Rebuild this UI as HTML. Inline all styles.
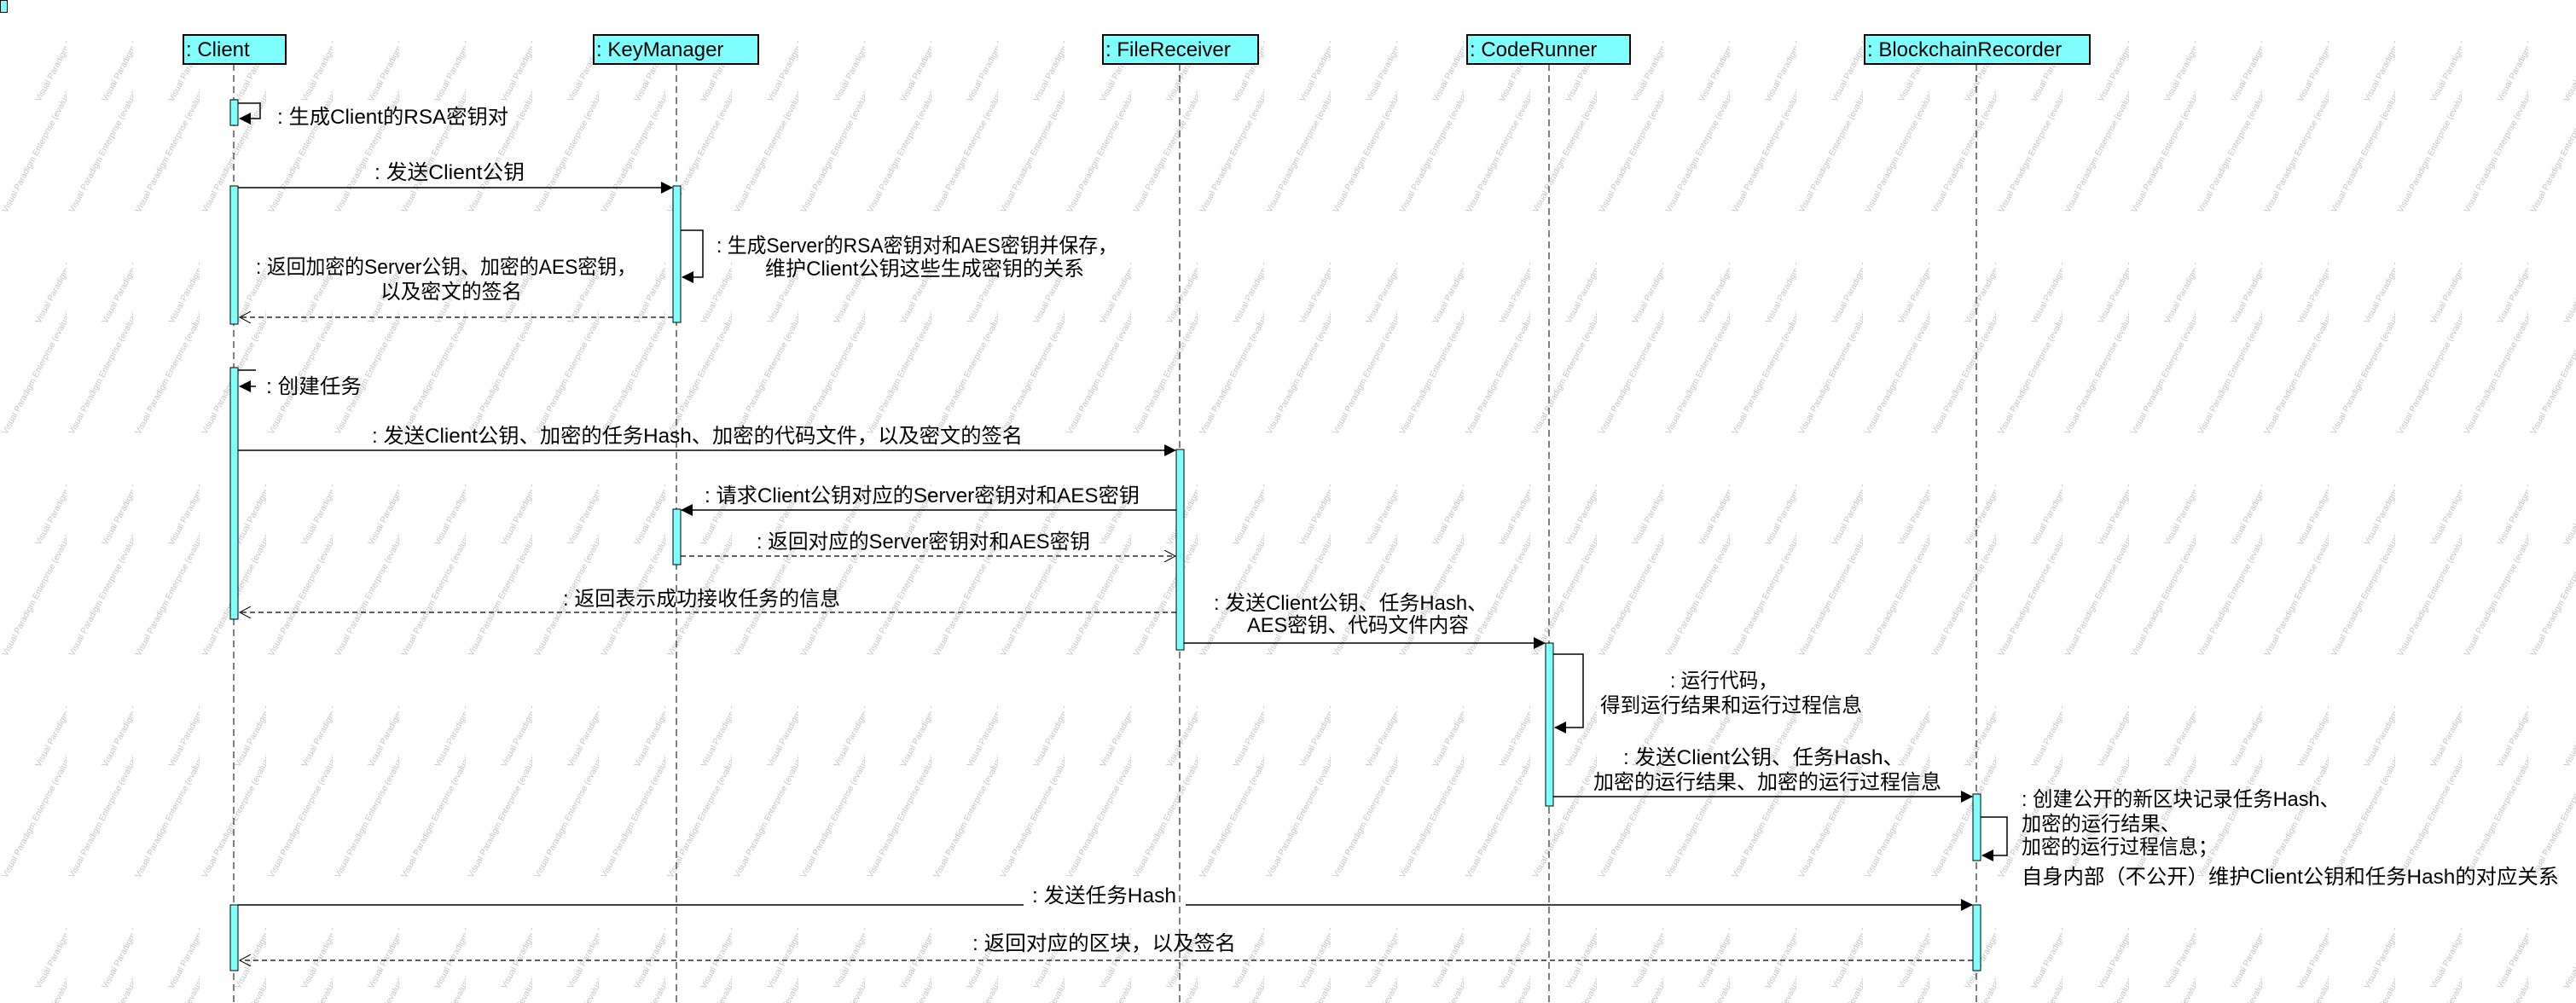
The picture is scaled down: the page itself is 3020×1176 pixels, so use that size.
<!DOCTYPE html>
<html><head><meta charset="utf-8"><style>
html,body{margin:0;padding:0;background:#fff;}
svg{display:block;}
text{font-family:"Liberation Sans","Noto Sans CJK SC",sans-serif;font-size:24px;fill:#000;}
.wm{font-size:10px;fill:#c4c4c4;}
</style></head><body>
<svg width="3020" height="1176" viewBox="0 0 3020 1176" xmlns="http://www.w3.org/2000/svg">
<defs>
<pattern id="wm" width="78" height="260" patternUnits="userSpaceOnUse">
<text class="wm" transform="translate(8,250) rotate(-62)">Visual Paradigm Enterprise (evaluation copy)</text>
<text class="wm" transform="translate(47,120) rotate(-62)">Visual Paradigm Enterprise (evaluation copy)</text>
</pattern>
<marker id="af" markerWidth="14" markerHeight="14" refX="13" refY="7" orient="auto" markerUnits="userSpaceOnUse"><path d="M0,0 L14,7 L0,14 z" fill="#000"/></marker>
<marker id="ao" markerWidth="14" markerHeight="14" refX="13" refY="7" orient="auto" markerUnits="userSpaceOnUse"><path d="M0,0 L13,7 L0,14" fill="none" stroke="#000" stroke-width="1"/></marker>
</defs>
<rect width="3020" height="1176" fill="url(#wm)"/>
<rect x="0.5" y="0.5" width="8" height="14" fill="#80ffff" stroke="#000"/>

<!-- lifelines -->
<g stroke="#000" stroke-width="1" stroke-dasharray="8,5">
<line x1="274" y1="75" x2="274" y2="1176"/>
<line x1="793" y1="75" x2="793" y2="1176"/>
<line x1="1383" y1="75" x2="1383" y2="1176"/>
<line x1="1816" y1="75" x2="1816" y2="1176"/>
<line x1="2317" y1="75" x2="2317" y2="1176"/>
</g>

<!-- headers -->
<g fill="#80ffff" stroke="#000" stroke-width="2">
<rect x="215" y="41" width="120" height="34"/>
<rect x="696" y="41" width="193" height="34"/>
<rect x="1293" y="41" width="182" height="34"/>
<rect x="1720" y="41" width="191" height="34"/>
<rect x="2186" y="41" width="264" height="34"/>
</g>
<text x="218" y="66">: Client</text>
<text x="699" y="66">: KeyManager</text>
<text x="1296" y="66">: FileReceiver</text>
<text x="1723" y="66">: CodeRunner</text>
<text x="2189" y="66">: BlockchainRecorder</text>

<!-- activations -->
<g fill="#80ffff" stroke="#000" stroke-width="1">
<rect x="270" y="117" width="9" height="30"/>
<rect x="270" y="218" width="9" height="162"/>
<rect x="789" y="218" width="9" height="160"/>
<rect x="270" y="431" width="9" height="295"/>
<rect x="1379" y="527" width="9" height="235"/>
<rect x="789" y="597" width="9" height="65"/>
<rect x="1812" y="754" width="9" height="191"/>
<rect x="2313" y="931" width="9" height="78"/>
<rect x="270" y="1061" width="9" height="77"/>
<rect x="2313" y="1061" width="9" height="77"/>
</g>

<!-- messages -->
<g stroke="#000" stroke-width="1.5" fill="none">
<polyline points="279,121 305,121 305,139 281,139" marker-end="url(#af)"/>
<line x1="279" y1="220" x2="788" y2="220" marker-end="url(#af)"/>
<polyline points="798,270 824,270 824,325 800,325" marker-end="url(#af)"/>
<line x1="789" y1="372" x2="281" y2="372" stroke-dasharray="6,4" stroke-width="1.2" marker-end="url(#ao)"/>
<polyline points="279,434 300,434" />
<line x1="300" y1="453" x2="281" y2="453" marker-end="url(#af)"/>
<line x1="279" y1="528" x2="1378" y2="528" marker-end="url(#af)"/>
<line x1="1379" y1="598" x2="799" y2="598" marker-end="url(#af)"/>
<line x1="798" y1="652" x2="1378" y2="652" stroke-dasharray="6,4" stroke-width="1.2" marker-end="url(#ao)"/>
<line x1="1379" y1="718" x2="281" y2="718" stroke-dasharray="6,4" stroke-width="1.2" marker-end="url(#ao)"/>
<line x1="1388" y1="754" x2="1811" y2="754" marker-end="url(#af)"/>
<polyline points="1821,767 1856,767 1856,853 1823,853" marker-end="url(#af)"/>
<line x1="1821" y1="934" x2="2312" y2="934" marker-end="url(#af)"/>
<polyline points="2322,958 2353,958 2353,1003 2324,1003" marker-end="url(#af)"/>
<line x1="279" y1="1061" x2="1200" y2="1061"/>
<line x1="1390" y1="1061" x2="2312" y2="1061" marker-end="url(#af)"/>
<line x1="2313" y1="1126" x2="281" y2="1126" stroke-dasharray="6,4" stroke-width="1.2" marker-end="url(#ao)"/>
</g>

<!-- labels -->
<g lengthAdjust="spacingAndGlyphs">
<text x="325" y="145" textLength="271" lengthAdjust="spacingAndGlyphs">: 生成Client的RSA密钥对</text>
<text x="439" y="210" textLength="176" lengthAdjust="spacingAndGlyphs">: 发送Client公钥</text>
<text x="840" y="296" textLength="470" lengthAdjust="spacingAndGlyphs">: 生成Server的RSA密钥对和AES密钥并保存，</text>
<text x="897" y="323" textLength="374" lengthAdjust="spacingAndGlyphs">维护Client公钥这些生成密钥的关系</text>
<text x="300" y="321" textLength="446" lengthAdjust="spacingAndGlyphs">: 返回加密的Server公钥、加密的AES密钥，</text>
<text x="446" y="350" textLength="166" lengthAdjust="spacingAndGlyphs">以及密文的签名</text>
<text x="312" y="461" textLength="112" lengthAdjust="spacingAndGlyphs">: 创建任务</text>
<text x="436" y="519" textLength="763" lengthAdjust="spacingAndGlyphs">: 发送Client公钥、加密的任务Hash、加密的代码文件，以及密文的签名</text>
<text x="826" y="589" textLength="510" lengthAdjust="spacingAndGlyphs">: 请求Client公钥对应的Server密钥对和AES密钥</text>
<text x="887" y="643" textLength="391" lengthAdjust="spacingAndGlyphs">: 返回对应的Server密钥对和AES密钥</text>
<text x="660" y="710" textLength="325" lengthAdjust="spacingAndGlyphs">: 返回表示成功接收任务的信息</text>
<text x="1423" y="715" textLength="321" lengthAdjust="spacingAndGlyphs">: 发送Client公钥、任务Hash、</text>
<text x="1462" y="741" textLength="260" lengthAdjust="spacingAndGlyphs">AES密钥、代码文件内容</text>
<text x="1958" y="806" textLength="126" lengthAdjust="spacingAndGlyphs">: 运行代码，</text>
<text x="1876" y="835" textLength="307" lengthAdjust="spacingAndGlyphs">得到运行结果和运行过程信息</text>
<text x="1903" y="896" textLength="329" lengthAdjust="spacingAndGlyphs">: 发送Client公钥、任务Hash、</text>
<text x="1868" y="925" textLength="408" lengthAdjust="spacingAndGlyphs">加密的运行结果、加密的运行过程信息</text>
<text x="2370" y="945" textLength="373" lengthAdjust="spacingAndGlyphs">: 创建公开的新区块记录任务Hash、</text>
<text x="2370" y="974" textLength="186" lengthAdjust="spacingAndGlyphs">加密的运行结果、</text>
<text x="2370" y="1001" textLength="230" lengthAdjust="spacingAndGlyphs">加密的运行过程信息；</text>
<text x="2370" y="1036" textLength="630" lengthAdjust="spacingAndGlyphs">自身内部（不公开）维护Client公钥和任务Hash的对应关系</text>
<text x="1210" y="1058" textLength="169" lengthAdjust="spacingAndGlyphs">: 发送任务Hash</text>
<text x="1140" y="1114" textLength="309" lengthAdjust="spacingAndGlyphs">: 返回对应的区块，以及签名</text>
</g>
</svg>
</body></html>
